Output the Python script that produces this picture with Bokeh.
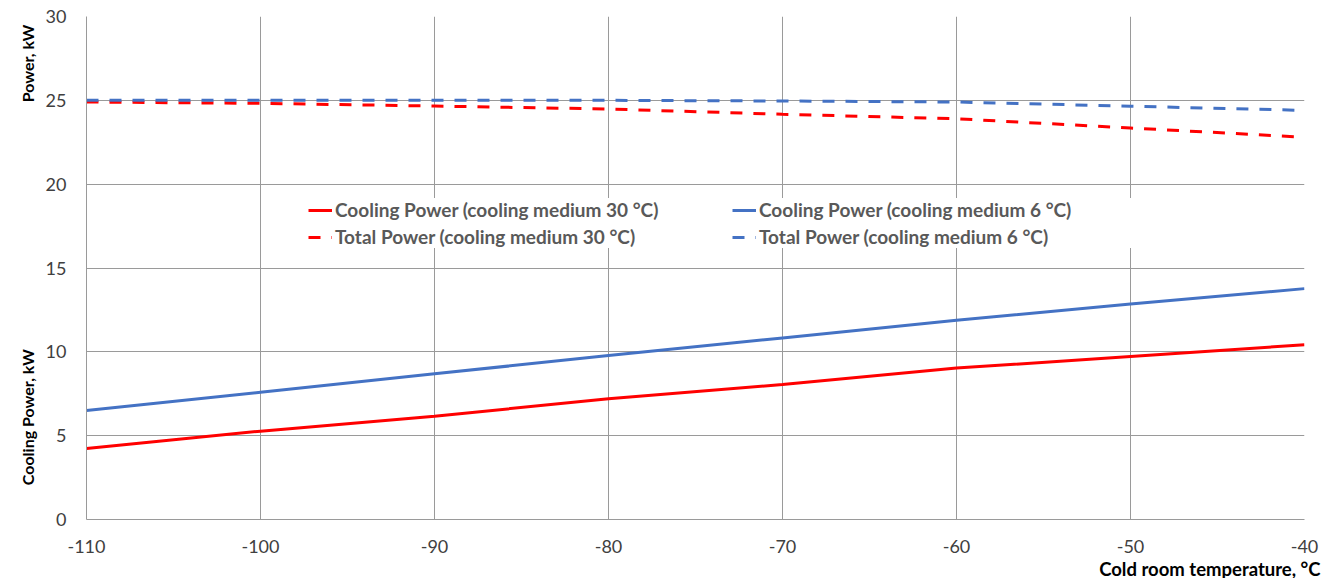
import math
from bokeh.plotting import figure
from bokeh.layouts import row
from bokeh.models import Legend, LegendItem, FixedTicker, Range1d, Title
from bokeh.core.properties import value
from bokeh.embed import file_html
from bokeh.resources import INLINE

temps = [-110, -100, -90, -80, -70, -60, -50, -40]
cool_30 = [4.23, 5.27, 6.16, 7.2, 8.05, 9.03, 9.72, 10.42]
cool_6 = [6.5, 7.59, 8.69, 9.78, 10.83, 11.88, 12.85, 13.77]
total_30 = [24.9, 24.82, 24.66, 24.48, 24.17, 23.9, 23.35, 22.8]
total_6 = [25.0, 25.0, 25.0, 25.0, 24.96, 24.9, 24.65, 24.4]
x_ticks = [-110, -100, -90, -80, -70, -60, -50, -40]
x_tick_labels = ["-110", "-100", "-90", "-80", "-70", "-60", "-50", "-40"]
y_ticks = [0, 5, 10, 15, 20, 25, 30]
y_tick_labels = ["0", "5", "10", "15", "20", "25", "30"]

names = ["Cooling Power (cooling medium 30 °C)", "Total Power (cooling medium 30 °C)",
         "Cooling Power (cooling medium 6 °C)", "Total Power (cooling medium 6 °C)"]
y_titles = ["Power, kW", "Cooling Power, kW"]
y_title_pos = [27.2, 6.1]
x_title = "Cold room temperature, °C"

RED = "#FF0000"
BLUE = "#4472C4"
GRID = "#9A9A9A"
FONT = "Lato"

TOP, BOTTOM = 16, 59
LEFT_W = 42

p = figure(frame_width=1218, frame_height=503, output_backend="svg", toolbar_location=None,
           x_range=Range1d(-110, -40), y_range=Range1d(0, 30),
           min_border_left=40, min_border_top=TOP, min_border_right=20,
           min_border_bottom=BOTTOM)
p.outline_line_color = None
p.background_fill_color = "white"
p.border_fill_color = "white"

for ax in (p.xaxis[0], p.yaxis[0]):
    ax.axis_line_color = GRID
    ax.major_tick_line_color = None
    ax.minor_tick_line_color = None
    ax.major_label_text_font = FONT
    ax.major_label_text_font_size = "18px"
    ax.major_label_text_color = "#404040"
p.xaxis.ticker = FixedTicker(ticks=x_ticks)
p.yaxis.ticker = FixedTicker(ticks=y_ticks)
p.xaxis.major_label_overrides = dict(zip(x_ticks, x_tick_labels))
p.yaxis.major_label_overrides = dict(zip(y_ticks, y_tick_labels))
p.xaxis.major_label_standoff = 14
p.yaxis.major_label_standoff = 14

p.xgrid.grid_line_color = GRID
p.ygrid.grid_line_color = GRID
p.xgrid.ticker = FixedTicker(ticks=x_ticks)
p.ygrid.ticker = FixedTicker(ticks=y_ticks)

r1 = p.line(temps, cool_30, line_color=RED, line_width=3)
r2 = p.line(temps, total_30, line_color=RED, line_width=3, line_dash="12 11")
r3 = p.line(temps, cool_6, line_color=BLUE, line_width=3)
r4 = p.line(temps, total_6, line_color=BLUE, line_width=3, line_dash="12 11")

legend = Legend(items=[LegendItem(label=names[0], renderers=[r1]),
                       LegendItem(label=names[1], renderers=[r2]),
                       LegendItem(label=names[2], renderers=[r3]),
                       LegendItem(label=names[3], renderers=[r4])],
                ncols=2, location=(222, 271), orientation="vertical")
legend.label_text_font = FONT
legend.label_text_font_style = "bold"
legend.label_text_font_size = "19px"
legend.label_text_color = "#595959"
legend.glyph_width = 24
legend.glyph_height = 20
legend.label_height = 20
legend.label_standoff = 3
legend.label_width = 393
legend.spacing = 4
legend.padding = 6
legend.margin = 0
legend.border_line_color = None
legend.background_fill_color = "white"
legend.background_fill_alpha = 1.0
p.add_layout(legend, "center")

xt = Title(text=x_title, align="right", offset=-16, standoff=0,
           text_font=FONT, text_font_style="bold", text_font_size="18.5px", text_color="black")
p.add_layout(xt, "below")

# narrow side panel holding the two vertical axis titles, sharing the y scale
side = figure(frame_width=LEFT_W, frame_height=503, output_backend="svg", toolbar_location=None,
              x_range=Range1d(0, LEFT_W), y_range=p.y_range,
              x_axis_type=None, y_axis_type=None,
              min_border_left=0, min_border_right=0, min_border_top=TOP, min_border_bottom=BOTTOM)
side.outline_line_color = None
side.background_fill_color = "white"
side.border_fill_color = "white"
side.text(x=[27, 27], y=y_title_pos, text=y_titles, angle=math.pi / 2,
          text_align="center", text_baseline="middle", text_font=value(FONT),
          text_font_style="bold", text_font_size="16px", text_color="black")

layout = row(side, p, spacing=0)
open("out.html", "w").write(file_html(layout, INLINE))
